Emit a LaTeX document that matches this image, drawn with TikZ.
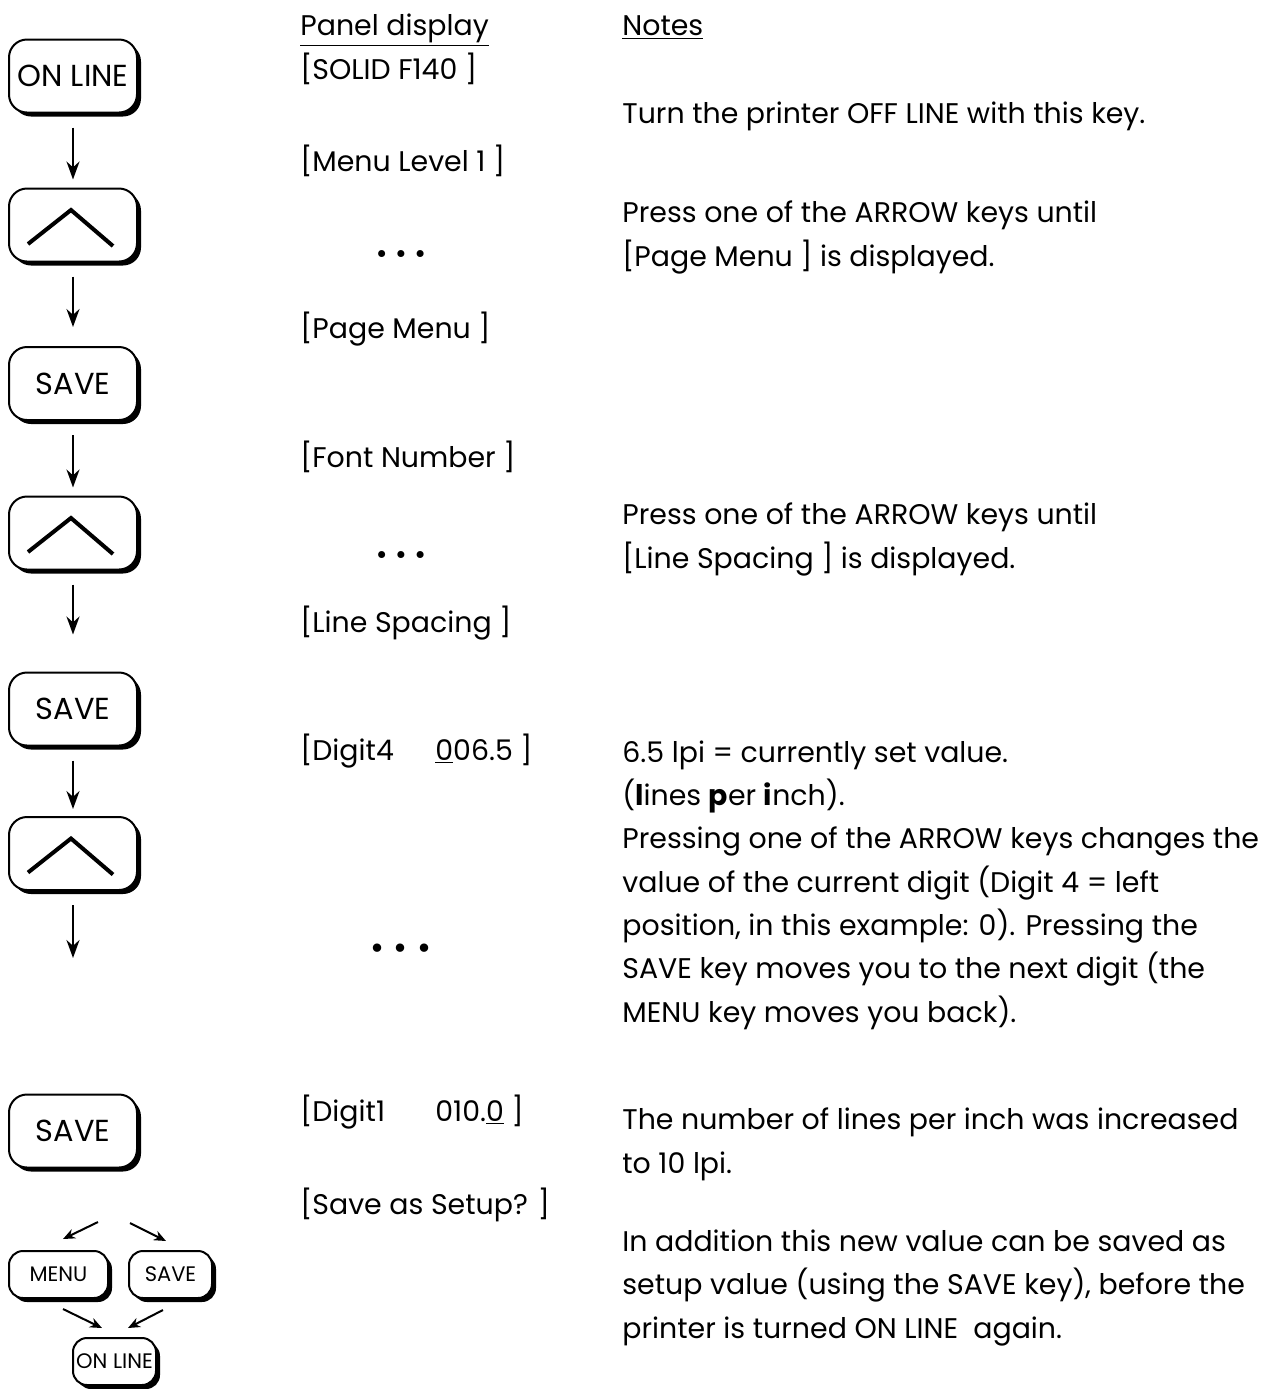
\documentclass[tikz,border=0pt]{standalone}
\usepackage{fontspec}
\setmainfont{Poppins}
\usetikzlibrary{shadows,arrows.meta}

\begin{document}
\begin{tikzpicture}[x=0.5pt, y=-0.5pt,
  every node/.style={inner sep=0pt, font=\fontsize{14.2}{21.65}\selectfont},
  txt/.style={anchor=base west, align=left},
  key/.style={draw, line width=1pt, fill=white, rounded corners=9pt,
    minimum width=64pt, minimum height=36.5pt, font=\fontsize{15.2}{18}\selectfont,
    drop shadow={shadow xshift=2pt, shadow yshift=-2pt, opacity=1, fill=black}},
  upkey/.style={key, path picture={
    \draw[line width=2pt, sharp corners] ([shift={(-22.5pt,-9.5pt)}]path picture bounding box.center)
      -- ([shift={(-1pt,7.5pt)}]path picture bounding box.center)
      -- ([shift={(20pt,-10.5pt)}]path picture bounding box.center);}},
  smallkey/.style={key, rounded corners=7pt, minimum height=23.5pt,
    font=\fontsize{10.5}{12}\selectfont},
  flow/.style={->, >={Stealth[length=9pt, width=6.5pt]}, line width=1pt, shorten <=7pt},
  flow2/.style={->, >={Stealth[length=6pt, width=5pt]}, line width=1pt}
]
\useasboundingbox (0,0) rectangle (1267,1389);

% keys
\node[key] (on1) at (73,76) {\makebox[0pt]{ON LINE}};
\node[upkey] (up1) at (73,225) {};
\node[key] (sv1) at (73,383.5) {SAVE};
\node[upkey] (up2) at (73,533) {};
\node[key] (sv2) at (73,709) {SAVE};
\node[upkey] (up3) at (73,853.5) {};
\node[key] (sv3) at (73,1131) {SAVE};
\coordinate (up3end) at (73,958);

\draw[flow, shorten >=4pt] (on1) -- (up1);
\draw[flow, shorten >=9.5pt] (up1) -- (sv1);
\draw[flow, shorten >=4pt] (sv1) -- (up2);
\draw[flow, shorten >=18.5pt] (up2) -- (sv2);
\draw[flow, shorten >=3.5pt] (sv2) -- (up3);
\draw[flow] (up3) -- (up3end);

\node[smallkey, minimum width=49.5pt] (menu) at (58.5,1274.5) {MENU};
\node[smallkey, minimum width=41.5pt] (sv4) at (170.5,1274.5) {SAVE};
\node[smallkey, minimum width=41.5pt] (on2) at (114.5,1361.5) {\makebox[0pt]{ON LINE}};
\coordinate (branchL) at (98,1222);
\coordinate (branchR) at (130,1223);
\draw[flow2] (branchL) -- ([xshift=2.25pt, yshift=5.5pt]menu.north);
\draw[flow2] (branchR) -- ([xshift=-2.25pt, yshift=4.5pt]sv4.north);
\draw[flow2] ([xshift=2.25pt, yshift=-5pt]menu.south) -- ([xshift=-6.25pt, yshift=4.5pt]on2.north);
\draw[flow2] ([xshift=-3.75pt, yshift=-5.5pt]sv4.south) -- ([xshift=6.75pt, yshift=4.5pt]on2.north);

% panel display column
\node[txt] (pd) at (300,35) {\underline{Panel display}};
\node[txt] (pd1) at (300,79) {[SOLID F140 ]};
\node[txt] (pd2) at (300,171) {[Menu Level 1 ]};
\node (dots1) at (401,257) {• • •};
\node[txt] (pd3) at (300,338) {[Page Menu ]};
\node[txt] (pd4) at (300,467) {[Font Number ]};
\node (dots2) at (401,558) {• • •};
\node[txt] (pd5) at (300,632) {[Line Spacing ]};
\node[txt] (pd6) at (300,760) {\makebox[67.5pt][l]{[Digit4}\underline{0}06.5 ]};
\node[font=\fontsize{17}{20}\selectfont] (dots3) at (401,952) {• • •};
\node[txt] (pd7) at (300,1121) {\makebox[67.5pt][l]{[Digit1}010.\underline{0} ]};
\node[txt] (pd8) at (300,1214) {[Save as Setup? ]};

% notes column
\node[txt] (nt) at (622,35) {\underline{Notes}};
\node[txt] (nt1) at (622,123) {Turn the printer OFF LINE with this key.};
\node[txt] (nt2) at (622,266) {Press one of the ARROW keys until\\{}[Page Menu ] is displayed.};
\node[txt] (nt3) at (622,568) {Press one of the ARROW keys until\\{}[Line Spacing ] is displayed.};
\node[txt] (nt4) at (622,1022) {6.5 lpi = currently set value.\\(\textbf{l}ines \textbf{p}er \textbf{i}nch).\\Pressing one of the ARROW keys changes the\\value of the current digit (Digit 4 = left\\position, in this example: 0). Pressing the\\SAVE key moves you to the next digit (the\\MENU key moves you back).};
\node[txt] (nt5) at (622,1173) {The number of lines per inch was increased\\to 10 lpi.};
\node[txt] (nt6) at (622,1338) {In addition this new value can be saved as\\setup value (using the SAVE key), before the\\printer is turned ON LINE\ \ again.};
\end{tikzpicture}
\end{document}
